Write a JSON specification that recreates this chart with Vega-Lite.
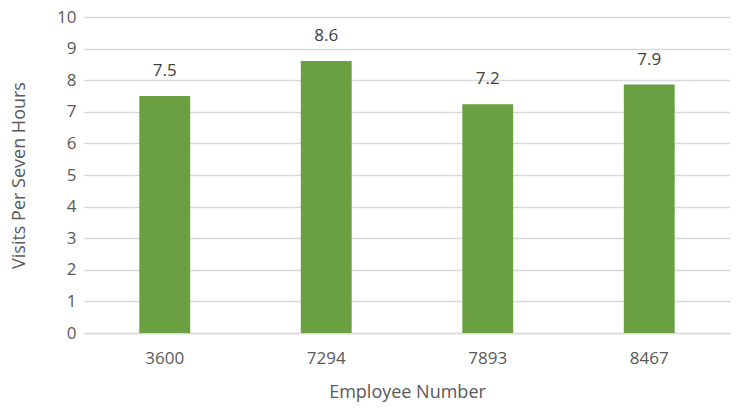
{
  "$schema": "https://vega.github.io/schema/vega-lite/v6.json",
  "width": 646,
  "height": 316,
  "autosize": {"type": "none"},
  "padding": {"left": 84, "top": 17, "right": 11, "bottom": 78},
  "background": "white",
  "data": {"values": [
    {"employee": "3600", "visits": 7.5},
    {"employee": "7294", "visits": 8.61},
    {"employee": "7893", "visits": 7.24},
    {"employee": "8467", "visits": 7.86}
  ]},
  "config": {
    "font": "Open Sans",
    "view": {"stroke": null},
    "axis": {"labelColor": "#595959", "titleColor": "#595959", "titleFontWeight": "normal", "labelFont": "Open Sans", "titleFont": "Open Sans"}
  },
  "encoding": {
    "x": {"field": "employee", "type": "nominal", "sort": null,
      "scale": {"paddingInner": 0.685, "paddingOuter": 0.3425},
      "axis": {"title": "Employee Number", "labelAngle": 0, "labelFontSize": 17, "titleFontSize": 18, "ticks": false, "domainColor": "#d9d9d9", "domainWidth": 1.5, "labelPadding": 17, "titlePadding": 17}},
    "y": {"field": "visits", "type": "quantitative",
      "scale": {"domain": [0, 10], "nice": false},
      "axis": {"title": "Visits Per Seven Hours", "values": [0,1,2,3,4,5,6,7,8,9,10], "labelOverlap": false, "labelFontSize": 17, "titleFontSize": 18, "ticks": false, "domain": false, "gridColor": "#d9d9d9", "gridWidth": 1.5, "labelPadding": 8, "titlePadding": 28}}
  },
  "layer": [
    {"mark": {"type": "bar", "color": "#6aa042"}},
    {"mark": {"type": "text", "dy": -25, "fontSize": 17, "color": "#404040", "font": "Open Sans"},
      "encoding": {"text": {"field": "visits", "type": "quantitative", "format": ".1f"}}}
  ]
}
